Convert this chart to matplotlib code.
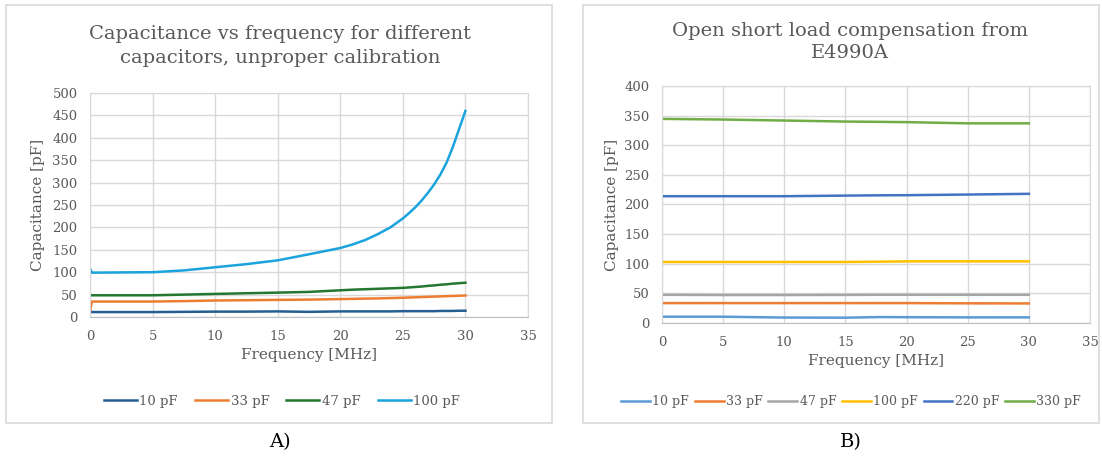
import matplotlib
matplotlib.use('Agg')
import matplotlib.pyplot as plt
from matplotlib.patches import Rectangle

# Measured capacitance vs frequency, wrong (default) calibration
freq_a = [0, 0.15, 2.5, 5, 7.5, 10, 12.5, 15, 17.5, 20, 21, 22, 23, 24, 25,
          25.5, 26, 26.5, 27, 27.5, 28, 28.5, 29, 29.5, 30]
cap_a_10 = [14, 11, 11, 11, 11.5, 12, 12, 12.5, 11.5, 12.5, 12.5, 12.5, 12.5, 12.5, 13,
            13, 13, 13, 13, 13, 13.5, 13.5, 13.5, 14, 14]
cap_a_33 = [12, 34.5, 34.5, 34.5, 35.5, 36.8, 37.5, 38.2, 38.8, 40, 40.5, 41, 41.5, 42.2, 43,
            43.5, 44, 44.5, 45, 45.5, 46, 46.5, 47, 47.5, 48]
cap_a_47 = [49, 48.5, 48.5, 48.5, 50, 51.5, 53, 54.4, 56, 59.6, 61, 62, 63, 64, 65,
            66, 67, 68, 69.5, 70.5, 72, 73, 74.5, 75.5, 76.5]
cap_a_100 = [108, 99, 99.5, 100, 104, 111, 118, 126.5, 140, 154, 162, 172, 185, 200, 220,
             232, 245, 260, 277, 296, 318, 345, 380, 420, 460]

# Open/short/load compensation from the E4990A
freq_b = [0, 5, 10, 15, 17.8, 20, 25, 30]
cap_b_10 = [10.6, 10.6, 9.2, 9.0, 10.0, 9.8, 9.5, 9.5]
cap_b_33 = [33.6, 33.6, 33.6, 33.6, 33.6, 33.6, 33.2, 33.0]
cap_b_47 = [47.6, 47.2, 47.2, 47.4, 47.6, 47.6, 47.6, 47.6]
cap_b_100 = [103, 103, 103, 103, 103.5, 104, 104, 104]
cap_b_220 = [214, 214, 214, 215, 215.5, 215.7, 216.8, 218]
cap_b_330 = [344.5, 343.4, 341.7, 340.0, 339.5, 339, 337, 337]

W, H = 1102, 457
fig = plt.figure(figsize=(W / 100, H / 100), dpi=100)
fig.patch.set_facecolor('white')

SERIF = ['DejaVu Serif']
GREY = '#595959'


def px_axes(x0, y0, x1, y1):
    return fig.add_axes([x0 / W, 1 - y1 / H, (x1 - x0) / W, (y1 - y0) / H])


def style_axes(ax, ymax):
    ax.set_xlim(0, 35)
    ax.set_ylim(0, ymax)
    ax.set_xticks(range(0, 36, 5))
    ax.set_yticks(range(0, ymax + 1, 50))
    ax.grid(True, color='#d9d9d9', lw=1.0)
    ax.set_axisbelow(True)
    for s in ax.spines.values():
        s.set_color('#d9d9d9')
    ax.spines['bottom'].set_color('#bfbfbf')
    ax.tick_params(length=0, labelsize=9.5, labelcolor=GREY, pad=9)
    for lab in ax.get_xticklabels() + ax.get_yticklabels():
        lab.set_family(SERIF)
    ax.set_xlabel('Frequency [MHz]', family=SERIF, fontsize=11, color=GREY, labelpad=4)
    ax.set_ylabel('Capacitance [pF]', family=SERIF, fontsize=11, color=GREY)


# panel frames
fig.patches.append(Rectangle((6 / W, 1 - 423 / H), 546 / W, 418 / H, transform=fig.transFigure,
                             fill=False, ec='#d9d9d9', lw=1.2))
fig.patches.append(Rectangle((583 / W, 1 - 423 / H), 516 / W, 418 / H, transform=fig.transFigure,
                             fill=False, ec='#d9d9d9', lw=1.2))

# --- A) ---
ax1 = px_axes(90, 93, 528, 317)
lw = 1.8
ax1.plot(freq_a, cap_a_10, color='#255e91', lw=lw, label='10 pF')
ax1.plot(freq_a, cap_a_33, color='#ed7d31', lw=lw, label='33 pF')
ax1.plot(freq_a, cap_a_47, color='#23772f', lw=lw, label='47 pF')
ax1.plot(freq_a, cap_a_100, color='#1aa3dc', lw=lw, label='100 pF')
style_axes(ax1, 500)
ax1.yaxis.set_label_coords(-0.103, 0.5)
fig.text(280 / W, 1 - 46 / H, 'Capacitance vs frequency for different\ncapacitors, unproper calibration',
         ha='center', va='center', family=SERIF, fontsize=14, color=GREY, linespacing=1.4)
ax1.legend(loc='center', bbox_to_anchor=(282 / W, 1 - 401 / H), bbox_transform=fig.transFigure,
           ncol=4, frameon=False, prop={'family': SERIF, 'size': 9.5}, labelcolor=GREY,
           handlelength=2.5, handletextpad=0.2, columnspacing=1.3)
fig.text(280 / W, 1 - 442 / H, 'A)', ha='center', va='center', family=SERIF, fontsize=14, color='black')

# --- B) ---
ax2 = px_axes(662, 86, 1090, 323)
ax2.plot(freq_b, cap_b_10, color='#5b9bd5', lw=lw, label='10 pF')
ax2.plot(freq_b, cap_b_33, color='#ed7d31', lw=lw, label='33 pF')
ax2.plot(freq_b, cap_b_47, color='#a5a5a5', lw=lw, label='47 pF')
ax2.plot(freq_b, cap_b_100, color='#ffc000', lw=lw, label='100 pF')
ax2.plot(freq_b, cap_b_220, color='#4472c4', lw=lw, label='220 pF')
ax2.plot(freq_b, cap_b_330, color='#70ad47', lw=lw, label='330 pF')
style_axes(ax2, 400)
ax2.yaxis.set_label_coords(-0.10, 0.5)
fig.text(850 / W, 1 - 42 / H, 'Open short load compensation from\nE4990A',
         ha='center', va='center', family=SERIF, fontsize=14, color=GREY, linespacing=1.3)
ax2.legend(loc='center', bbox_to_anchor=(851 / W, 1 - 402 / H), bbox_transform=fig.transFigure,
           ncol=6, frameon=False, prop={'family': SERIF, 'size': 9}, labelcolor=GREY,
           handlelength=2.3, handletextpad=0.2, columnspacing=0.45)
fig.text(851 / W, 1 - 442 / H, 'B)', ha='center', va='center', family=SERIF, fontsize=14, color='black')

fig.savefig('out.png', dpi=100, facecolor='white')
